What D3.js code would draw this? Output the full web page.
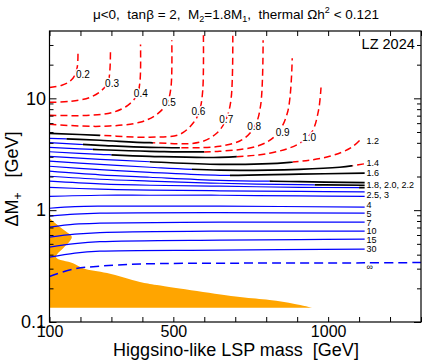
<!DOCTYPE html>
<html>
<head>
<meta charset="utf-8">
<script src="https://cdn.jsdelivr.net/npm/d3@7"></script>
<style>
body { margin: 0; background: #fff; }
text { font-family: "Liberation Sans", Arial, sans-serif; }
</style>
</head>
<body>
<div id="chart"></div>
<script>
// contour values of the chargino lifetime lines
var contourText = ["0.2","0.3","0.4","0.5","0.6","0.7","0.8","0.9","1.0","1.2","1.4","1.6","1.8","2.0","2.2","2.5","3","4","5","7","10","15","30"];

// LSP mass [GeV] along each contour
var contourMass = [
	[100,140,166,182,190,192],
	[100,166,231,269,289,295,297],
	[100,231,305,353,382,392,394],
	[100,263,392,447,479,492,495],
	[100,263,424,521,566,585,595,597],
	[100,263,424,585,640,669,686,692],
	[100,263,424,650,724,763,782,790],
	[100,263,424,650,779,834,869,884],
	[100,263,424,650,811,902,947,969,977],
	[100,263,424,650,876,1005,1076,1108],
	[100,263,424,650,908,1037,1118],
	[100,263,424,650,908,1118],
	[100,263,424,650,908,1118],
	[100,263,424,650,908,1118],
	[100,263,424,650,908,1118],
	[100,263,424,650,908,1118],
	[100,263,424,650,908,1118],
	[100,182,263,650,1118],
	[100,182,263,650,1118],
	[100,182,263,650,1118],
	[100,182,263,650,1118],
	[100,182,263,650,908,1118],
	[100,182,263,650,1118]
];

// mass splitting Delta M+ [GeV] along each contour
var contourDM = [
	[12.5,13.1,14.2,16.1,19.3,25.2],
	[9.21,9.40,10.2,11.8,13.9,17.8,27.9],
	[7.05,7.05,7.50,8.66,10.6,13.9,30.3],
	[5.86,5.62,6.11,7.20,9.02,12.3,33.0],
	[4.87,4.67,4.49,4.77,6.11,7.81,11.8,39.7],
	[4.39,4.22,4.01,4.05,4.87,6.36,9.60,39.7],
	[4.01,3.80,3.65,3.73,4.30,5.62,8.66,33.0],
	[3.65,3.47,3.36,3.36,3.80,4.77,7.50,22.8],
	[3.33,3.16,3.03,2.97,3.23,3.88,4.97,7.81,12.5],
	[3.03,2.85,2.71,2.57,2.68,3.03,3.65,4.39],
	[2.74,2.57,2.42,2.28,2.32,2.42,2.60],
	[2.47,2.30,2.18,2.05,2.10,2.14],
	[2.23,2.07,1.97,1.85,1.80,1.76],
	[2.01,1.89,1.82,1.74,1.69,1.67],
	[1.82,1.72,1.67,1.64,1.60,1.59],
	[1.60,1.54,1.51,1.49,1.47,1.46],
	[1.33,1.36,1.36,1.36,1.34,1.33],
	[1.04,1.075,1.086,1.086,1.064],
	[0.884,0.921,0.940,0.950,0.940],
	[0.705,0.750,0.765,0.781,0.781],
	[0.574,0.610,0.630,0.649,0.649],
	[0.467,0.502,0.523,0.540,0.545,0.551],
	[0.380,0.413,0.430,0.439,0.449]
];

// mass where each contour turns from blue to black, and from black to red dashed
var blueUntil = [100,100,100,100,100,155,208,240,300,424,560,683,811,957,1100,2000,2000,2000,2000,2000,2000,2000,2000];
var redFrom   = [100,100,100,100,263,434,521,600,705,886,1079,2000,2000,2000,2000,2000,2000,2000,2000,2000,2000,2000,2000];

// the infinite-lifetime contour
var infMass = [100,176,263,392,715,1118,1300];
var infDM = [0.255,0.297,0.316,0.330,0.336,0.338,0.340];

// labels sitting on the bends of the red contours
var bendText = ["0.2","0.3","0.4","0.5","0.6","0.7","0.8","0.9","1.0"];
var bendMass = [208,302,395,486,581,671,761,853,939];
var bendDM = [16.4,13.6,11.1,9.21,7.66,6.49,5.62,4.97,4.49];

// labels at the right end of the contours
var endText = ["1.2","1.4","1.6","1.8, 2.0, 2.2","2.5, 3","4","5","7","10","15","30","\u221e"];
var endDM = [4.13,2.63,2.14,1.67,1.36,1.11,0.925,0.775,0.649,0.540,0.449,0.310];
var endMass = 1124;

// LZ 2024 excluded region
var lzMass = [100,137,168,172,166,147,121,176,208,286,392,447,715,811,892,950];
var lzDM = [0.848,0.698,0.600,0.574,0.530,0.467,0.380,0.336,0.303,0.274,0.228,0.214,0.167,0.157,0.145,0.134];
var lzFloor = 0.134;

var xTickValues = [100,200,300,400,500,600,700,800,900,1000,1100,1200,1300];
var xTickLabels = [100,500,1000];
var yTickValues = [0.1,0.2,0.3,0.4,0.5,0.6,0.7,0.8,0.9,1,2,3,4,5,6,7,8,9,10,20,30];
var yTickLabels = [0.1,1,10];

var margin = {top: 31, right: 3, bottom: 39, left: 49.5};
var width = 424 - margin.left - margin.right;
var height = 361 - margin.top - margin.bottom;

var svg = d3.select("#chart").append("svg")
	.attr("width", 424)
	.attr("height", 361);

var g = svg.append("g")
	.attr("transform", "translate(" + margin.left + ", " + margin.top + ")");

var x = d3.scaleLinear().domain([100, 1300]).range([0, width]);
var y = d3.scaleLog().domain([0.1, 40]).range([height, 0]);

var defs = svg.append("defs");
defs.append("clipPath").attr("id", "plot-clip")
	.append("rect").attr("width", width).attr("height", height);

var plot = g.append("g").attr("clip-path", "url(#plot-clip)");

// orange excluded region
var lzPts = lzMass.map((m, i) => [x(m), y(lzDM[i])]);
var lzPath = d3.line().curve(d3.curveCatmullRom.alpha(0.5))(lzPts)
	+ "L" + x(100) + "," + y(lzFloor) + "Z";
plot.append("path")
	.attr("d", lzPath)
	.attr("fill", "#ffa500");

var line = d3.line().curve(d3.curveCatmullRom.alpha(0.5));

function addClip(id, x0, x1) {
	defs.append("clipPath").attr("id", id)
		.append("rect")
		.attr("x", x0).attr("y", -10)
		.attr("width", Math.max(0, x1 - x0)).attr("height", height + 20);
}

contourText.forEach((c, i) => {
	var pts = contourMass[i].map((m, j) => [x(m), y(contourDM[i][j])]);
	var d = line(pts);
	var xb = x(Math.min(blueUntil[i], 1300));
	var xr = x(Math.min(redFrom[i], 1300));

	if (xb > 0) {
		addClip("cb" + i, -5, xb);
		plot.append("path").attr("d", d).attr("clip-path", "url(#cb" + i + ")")
			.attr("fill", "none").attr("stroke", "#0000ff").attr("stroke-width", 1.2);
	}
	if (xr > xb) {
		addClip("ck" + i, xb, xr);
		plot.append("path").attr("d", d).attr("clip-path", "url(#ck" + i + ")")
			.attr("fill", "none").attr("stroke", "#000").attr("stroke-width", 1.7);
	}
	if (redFrom[i] < 1300) {
		addClip("cr" + i, xr, width + 5);
		plot.append("path").attr("d", d).attr("clip-path", "url(#cr" + i + ")")
			.attr("fill", "none").attr("stroke", "#ff0000").attr("stroke-width", 1.5)
			.attr("stroke-dasharray", "7,4");
	}
});

plot.append("path")
	.attr("d", line(infMass.map((m, i) => [x(m), y(infDM[i])])))
	.attr("fill", "none")
	.attr("stroke", "#0000ff")
	.attr("stroke-width", 1.5)
	.attr("stroke-dasharray", "9,5");

// contour labels
g.selectAll(".bend-label").data(bendText).enter().append("text")
	.attr("class", "bend-label")
	.attr("x", (d, i) => x(bendMass[i]))
	.attr("y", (d, i) => y(bendDM[i]))
	.attr("text-anchor", "middle")
	.attr("dy", "0.35em")
	.attr("font-size", "10px")
	.attr("stroke", "#fff")
	.attr("stroke-width", 3)
	.attr("paint-order", "stroke")
	.attr("fill", "#000")
	.text(d => d);

g.selectAll(".end-label").data(endText).enter().append("text")
	.attr("class", "end-label")
	.attr("x", x(endMass))
	.attr("y", (d, i) => y(endDM[i]))
	.attr("dy", "0.35em")
	.attr("font-size", "9px")
	.attr("fill", "#000")
	.text(d => d);

// axes with inward ticks on all four sides
function isMajor(d) {
	var l = Math.log10(d);
	return Math.abs(l - Math.round(l)) < 1e-6;
}

var bottomAxis = d3.axisBottom(x)
	.tickValues(xTickValues)
	.tickSizeInner(-5).tickSizeOuter(0).tickPadding(4)
	.tickFormat(d => xTickLabels.indexOf(d) >= 0 ? d : "");
var gb = g.append("g")
	.attr("transform", "translate(0, " + height + ")")
	.call(bottomAxis);

var topAxis = d3.axisTop(x)
	.tickValues(xTickValues)
	.tickSizeInner(-5).tickSizeOuter(0)
	.tickFormat("");
var gt = g.append("g").call(topAxis);

var leftAxis = d3.axisLeft(y)
	.tickValues(yTickValues)
	.tickSizeInner(-7).tickSizeOuter(0).tickPadding(3.5)
	.tickFormat(d => yTickLabels.indexOf(d) >= 0 ? d : "");
var gl = g.append("g").call(leftAxis);
gl.selectAll(".tick line").attr("x2", d => isMajor(d) ? 7 : 4);

var rightAxis = d3.axisRight(y)
	.tickValues(yTickValues)
	.tickSizeInner(-7).tickSizeOuter(0)
	.tickFormat("");
var gr = g.append("g")
	.attr("transform", "translate(" + width + ", 0)")
	.call(rightAxis);
gr.selectAll(".tick line").attr("x2", d => isMajor(d) ? -7 : -4);

[gb, gt, gl, gr].forEach(a => {
	a.select(".domain").remove();
	a.attr("font-family", null);
	a.selectAll(".tick line").attr("stroke", "#000");
});
gb.selectAll("text").attr("font-size", "16px").attr("fill", "#000");
gl.selectAll("text").attr("font-size", "18px").attr("fill", "#000");

g.append("rect")
	.attr("width", width)
	.attr("height", height)
	.attr("fill", "none")
	.attr("stroke", "#000")
	.attr("stroke-width", 1.2);

g.append("text")
	.attr("x", x(1280))
	.attr("y", 18)
	.attr("text-anchor", "end")
	.attr("font-size", "14.5px")
	.text("LZ 2024");

// title
var title = svg.append("text")
	.attr("x", 236)
	.attr("y", 19)
	.attr("text-anchor", "middle")
	.attr("font-size", "13.5px")
	.style("white-space", "pre");
title.append("tspan").text("\u03bc<0,  tan\u03b2 = 2,  M");
title.append("tspan").attr("font-size", "9px").attr("dy", 3).text("2");
title.append("tspan").attr("dy", -3).text("=1.8M");
title.append("tspan").attr("font-size", "9px").attr("dy", 3).text("1");
title.append("tspan").attr("dy", -3).text(",  thermal \u03a9h");
title.append("tspan").attr("font-size", "9px").attr("dy", -6).text("2");
title.append("tspan").attr("dy", 6).text(" < 0.121");

svg.append("text")
	.attr("x", 236)
	.attr("y", 356)
	.attr("text-anchor", "middle")
	.attr("font-size", "18px")
	.style("white-space", "pre")
	.text("Higgsino-like LSP mass  [GeV]");

var ylab = svg.append("text")
	.attr("transform", "translate(18, 179) rotate(-90)")
	.attr("text-anchor", "middle")
	.attr("font-size", "18px")
	.style("white-space", "pre");
ylab.append("tspan").text("\u0394M");
ylab.append("tspan").attr("font-size", "12px").attr("dy", 4).text("+");
ylab.append("tspan").attr("dy", -4).text("   [GeV]");
</script>
</body>
</html>
